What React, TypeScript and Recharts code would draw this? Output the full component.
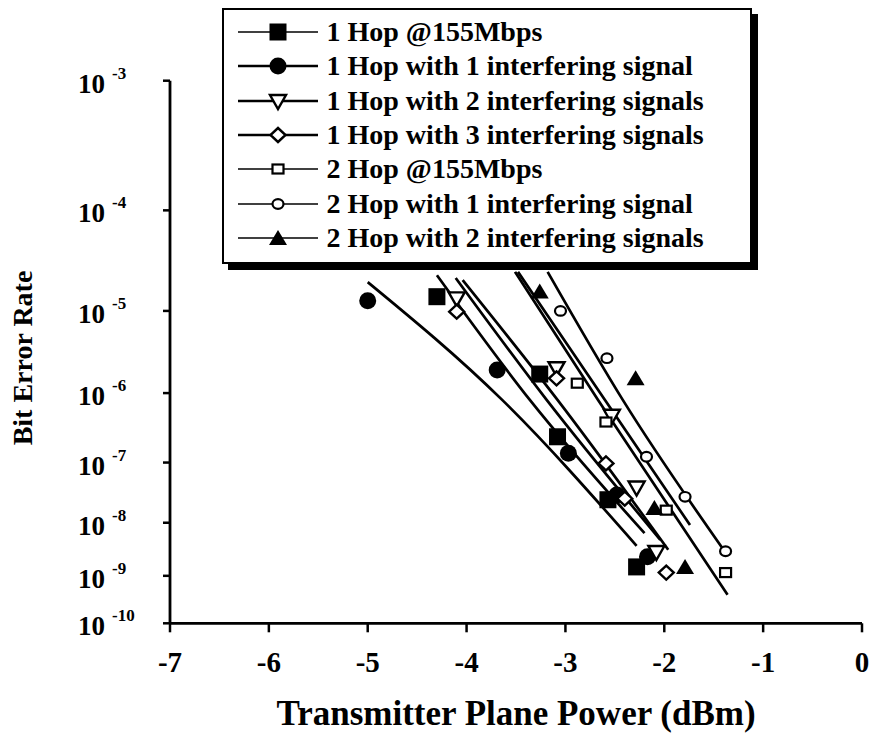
import { ScatterChart, Scatter, XAxis, YAxis, Legend, Label } from "recharts";

// x ticks (dBm) and BER decades shown on the y axis (10^-n)
const powerTicks = [-7, -6, -5, -4, -3, -2, -1, 0];
const berDecades = [3, 4, 5, 6, 7, 8, 9, 10];

// measured points: transmitter power (dBm) / bit error rate
const hop1Power = [-4.3, -3.26, -3.08, -2.57, -2.28];
const hop1Ber = [1.43e-5, 1.77e-6, 2.45e-7, 2.5e-8, 1.5e-9];

const hop1Int1Power = [-5.0, -3.69, -2.97, -2.48, -2.17];
const hop1Int1Ber = [1.29e-5, 1.99e-6, 1.39e-7, 3.0e-8, 2.36e-9];

const hop1Int2Power = [-4.1, -3.09, -2.53, -2.28, -2.08];
const hop1Int2Ber = [1.37e-5, 2.1e-6, 4.9e-7, 4.0e-8, 2.9e-9];

const hop1Int3Power = [-4.1, -3.09, -2.59, -2.4, -1.98];
const hop1Int3Ber = [9.8e-6, 1.56e-6, 9.7e-8, 2.6e-8, 1.16e-9];

const hop2Power = [-2.88, -2.59, -1.98, -1.38];
const hop2Ber = [1.35e-6, 4.0e-7, 1.66e-8, 1.16e-9];

const hop2Int1Power = [-3.05, -2.58, -2.18, -1.79, -1.38];
const hop2Int1Ber = [1.0e-5, 2.8e-6, 1.23e-7, 2.8e-8, 3.0e-9];

const hop2Int2Power = [-3.26, -2.29, -2.1, -1.79];
const hop2Int2Ber = [1.62e-5, 1.56e-6, 1.8e-8, 1.5e-9];

// fitted curves (start / middle / end)
const fitPower = [
    [-4.3, -3.36, -2.2],
    [-5.0, -3.64, -2.28],
    [-4.11, -3.19, -2.04],
    [-4.04, -3.08, -1.96],
    [-3.51, -2.67, -1.36],
    [-3.48, -2.6, -1.74],
    [-3.18, -2.42, -1.36],
];
const fitBer = [
    [2.4e-5, 8.1e-7, 6.5e-9],
    [2.04e-5, 8.1e-7, 3.8e-9],
    [2.25e-5, 8.1e-7, 4.9e-9],
    [2.14e-5, 8.1e-7, 3.2e-9],
    [2.6e-5, 8.1e-7, 4.1e-10],
    [2.6e-5, 8.1e-7, 9.1e-9],
    [2.6e-5, 8.1e-7, 2.5e-9],
];

const seriesNames = [
    "1 Hop @155Mbps",
    "1 Hop with 1 interfering signal",
    "1 Hop with 2 interfering signals",
    "1 Hop with 3 interfering signals",
    "2 Hop @155Mbps",
    "2 Hop with 1 interfering signal",
    "2 Hop with 2 interfering signals",
];

const FONT = "Liberation Serif, Times New Roman, serif";

// BER paper uses a log(-log) scale
const toAxis = (ber: number) => Math.log10(-Math.log10(ber));
const toPoints = (xs: number[], bers: number[]) =>
    xs.map((x, i) => ({ x, y: toAxis(bers[i]) }));

type Kind = "square" | "circle" | "tridown" | "diamond" | "osquare" | "ocircle" | "triup";

function Marker({ kind, cx, cy }: { kind: Kind; cx: number; cy: number }) {
    const sw = 2.4;
    switch (kind) {
        case "square":
            return <rect x={cx - 8.5} y={cy - 8.5} width={17} height={17} fill="#000" />;
        case "circle":
            return <circle cx={cx} cy={cy} r={8.5} fill="#000" />;
        case "tridown":
            return (
                <polygon
                    points={`${cx - 8},${cy - 6} ${cx + 8},${cy - 6} ${cx},${cy + 8}`}
                    fill="#fff"
                    stroke="#000"
                    strokeWidth={sw}
                />
            );
        case "diamond":
            return (
                <polygon
                    points={`${cx},${cy - 7} ${cx + 7.5},${cy} ${cx},${cy + 7} ${cx - 7.5},${cy}`}
                    fill="#fff"
                    stroke="#000"
                    strokeWidth={sw}
                />
            );
        case "osquare":
            return <rect x={cx - 5.5} y={cy - 4.5} width={11} height={9} fill="#fff" stroke="#000" strokeWidth={2.2} />;
        case "ocircle":
            return <ellipse cx={cx} cy={cy} rx={5.5} ry={4.8} fill="#fff" stroke="#000" strokeWidth={2.2} />;
        case "triup":
            return <polygon points={`${cx - 9},${cy + 7} ${cx + 9},${cy + 7} ${cx},${cy - 8}`} fill="#000" />;
    }
    return null;
}

const kinds: Kind[] = ["square", "circle", "tridown", "diamond", "osquare", "ocircle", "triup"];

const seriesPoints = [
    toPoints(hop1Power, hop1Ber),
    toPoints(hop1Int1Power, hop1Int1Ber),
    toPoints(hop1Int2Power, hop1Int2Ber),
    toPoints(hop1Int3Power, hop1Int3Ber),
    toPoints(hop2Power, hop2Ber),
    toPoints(hop2Int1Power, hop2Int1Ber),
    toPoints(hop2Int2Power, hop2Int2Ber),
];

const BerTick = (props: any) => {
    const { x, y, payload } = props;
    const n = Math.round(Math.pow(10, payload.value));
    return (
        <g style={{ fontFamily: FONT, fontWeight: "bold" }} fill="#000">
            <text x={x - 58} y={y + 12} textAnchor="end" style={{ fontSize: 27 }}>
                10
            </text>
            <text x={x - 51} y={y - 2} textAnchor="start" style={{ fontSize: 17 }}>
                -{n}
            </text>
        </g>
    );
};

const PowerTick = (props: any) => {
    const { x, y, payload } = props;
    return (
        <text
            x={x}
            y={y + 40}
            textAnchor="middle"
            fill="#000"
            style={{ fontFamily: FONT, fontWeight: "bold", fontSize: 29 }}
        >
            {payload.value}
        </text>
    );
};

const renderYLabel = (props: any) => {
    const { viewBox } = props;
    const cx = 22;
    const cy = viewBox.y + viewBox.height / 2 + 6;
    return (
        <text
            x={cx}
            y={cy}
            transform={`rotate(-90 ${cx} ${cy})`}
            textAnchor="middle"
            dominantBaseline="central"
            fill="#000"
            style={{ fontFamily: FONT, fontWeight: "bold", fontSize: 28 }}
        >
            Bit Error Rate
        </text>
    );
};

const renderXLabel = (props: any) => {
    const { viewBox } = props;
    return (
        <text
            x={viewBox.x + viewBox.width / 2}
            y={725}
            textAnchor="middle"
            fill="#000"
            style={{ fontFamily: FONT, fontWeight: "bold", fontSize: 35 }}
        >
            Transmitter Plane Power (dBm)
        </text>
    );
};

const renderLegend = () => (
    <div
        style={{
            boxSizing: "border-box",
            width: 530,
            height: 256,
            border: "2.5px solid #000",
            background: "#fff",
            boxShadow: "6px 6px 0 #000",
            paddingTop: 5,
            paddingLeft: 13.5,
            fontFamily: FONT,
            fontWeight: "bold",
            fontSize: 28,
            lineHeight: 1,
            color: "#000",
        }}
    >
        {seriesNames.map((name, i) => (
            <div key={name} style={{ display: "flex", alignItems: "center", height: 34.3 }}>
                <svg width={84} height={24} style={{ flex: "none" }}>
                    <line
                        x1={0}
                        y1={12}
                        x2={80}
                        y2={12}
                        stroke="#000"
                        strokeWidth={i >= 1 && i <= 3 ? 2.6 : 1.6}
                    />
                    <Marker kind={kinds[i]} cx={40} cy={12} />
                </svg>
                <span style={{ marginLeft: 5, whiteSpace: "nowrap" }}>{name}</span>
            </div>
        ))}
    </div>
);

export default function App() {
    return (
        <div style={{ position: "absolute", left: 0, top: 0 }}>
            <ScatterChart
                width={869}
                height={734}
                margin={{ top: 80.7, right: 7, bottom: 50.7, left: 70 }}
            >
                <XAxis
                    type="number"
                    dataKey="x"
                    domain={[-7, 0]}
                    ticks={powerTicks}
                    interval={0}
                    height={60}
                    tickSize={9}
                    tickMargin={0}
                    axisLine={{ stroke: "#000", strokeWidth: 2.8 }}
                    tickLine={{ stroke: "#000", strokeWidth: 2.5 }}
                    tick={<PowerTick />}
                >
                    <Label content={renderXLabel} />
                </XAxis>
                <YAxis
                    type="number"
                    dataKey="y"
                    domain={[toAxis(1e-3), toAxis(1e-10)]}
                    ticks={berDecades.map((n) => Math.log10(n))}
                    interval={0}
                    reversed
                    width={100}
                    tickSize={7}
                    tickMargin={0}
                    axisLine={{ stroke: "#000", strokeWidth: 2.8 }}
                    tickLine={{ stroke: "#000", strokeWidth: 2.5 }}
                    tick={<BerTick />}
                >
                    <Label content={renderYLabel} />
                </YAxis>
                {fitPower.map((xs, i) => (
                    <Scatter
                        key={`fit-${i}`}
                        data={toPoints(xs, fitBer[i])}
                        line={{ stroke: "#000", strokeWidth: 2.7 }}
                        lineJointType="monotoneX"
                        shape={() => <g />}
                        legendType="none"
                        isAnimationActive={false}
                    />
                ))}
                {seriesPoints.map((pts, i) => (
                    <Scatter
                        key={seriesNames[i]}
                        name={seriesNames[i]}
                        data={pts}
                        shape={(p: any) => <Marker kind={kinds[i]} cx={p.cx} cy={p.cy} />}
                        isAnimationActive={false}
                    />
                ))}
                <Legend
                    layout="vertical"
                    align="center"
                    verticalAlign="middle"
                    content={renderLegend}
                    wrapperStyle={{ top: 8, left: 222, width: 540, height: 262 }}
                />
            </ScatterChart>
        </div>
    );
}
